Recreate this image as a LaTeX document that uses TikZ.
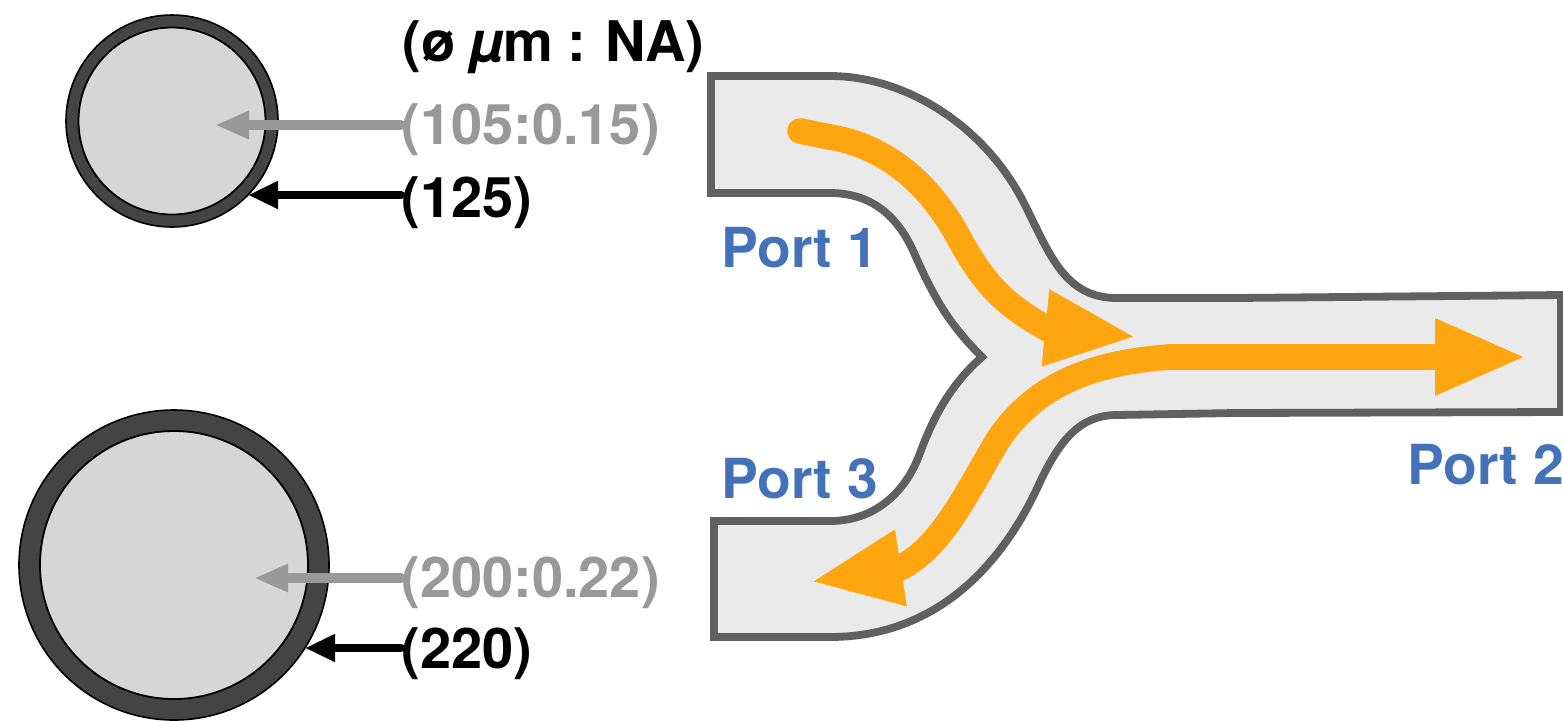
\documentclass[tikz,border=0pt]{standalone}
\usepackage{fontspec}
\setmainfont{TeX Gyre Heros}
\usetikzlibrary{arrows.meta}
\definecolor{flow}{HTML}{FFA50F}
\definecolor{portblue}{HTML}{4472B8}
\definecolor{wall}{HTML}{606060}
\definecolor{guide}{HTML}{EAEAEA}
\definecolor{ring}{HTML}{444444}
\definecolor{core}{HTML}{D6D6D6}
\definecolor{naGray}{HTML}{999999}
\tikzset{
  x=0.5pt,y=-0.5pt,
  fibre/.style={circle,draw=black,line width=0.8pt,fill=ring,inner sep=0pt,minimum size=#1},
  fcore/.style={circle,draw=black,line width=0.9pt,fill=core,inner sep=0pt,minimum size=#1},
  lab/.style={anchor=base west,inner sep=0pt,font=\bfseries\fontsize{28}{30}\selectfont},
  port/.style={lab,text=portblue,font=\bfseries\fontsize{27.6}{30}\selectfont},
  naarrow/.style={draw=naGray,line width=5pt,line cap=round,-{Triangle[length=17pt,width=13pt]}},
  odarrow/.style={draw=black,line width=4.2pt,line cap=round,-{Triangle[length=15pt,width=13pt]}},
  flowarrow/.style={draw=flow,line width=12.8pt,line cap=round,-{Triangle[length=46pt,width=35pt]}},
}
\begin{document}
\begin{tikzpicture}
\path[use as bounding box,fill=white] (0,0) rectangle (1563,720);
% fibres
\node[fibre=106pt] (f1) at (172,121) {};
\node[fcore=93.5pt] (c1) at (172,121) {};
\node[fibre=155pt] (f2) at (174,565) {};
\node[fcore=134pt] (c2) at (174,565) {};
% labels
\node[lab] (head) at (402,61) {\spaceskip=7pt (ø {\itshape µ}m : NA)};
\node[lab,text=naGray] (na1) at (401,144) {(105:0.15)};
\node[lab] (od1) at (401,217) {(125)};
\node[lab,text=naGray] (na2) at (401,597) {(200:0.22)};
\node[lab] (od2) at (401,668) {(220)};
% label arrows
\coordinate (t1) at (215,125);
\coordinate (t2) at (248,195);
\coordinate (t3) at (254,578);
\coordinate (t4) at (305,648);
\coordinate (s1) at (na1.west |- t1);
\coordinate (s2) at (od1.west |- t2);
\coordinate (s3) at (na2.west |- t3);
\coordinate (s4) at (od2.west |- t4);
\draw[naarrow] (s1) -- (t1);
\draw[odarrow] (s2) -- (t2);
\draw[naarrow] (s3) -- (t3);
\draw[odarrow] (s4) -- (t4);
% splitter
\draw[draw=wall,fill=guide,line width=3.9pt,line join=miter]
  (711,76) -- (830,76)
  .. controls (905,76) and (985,125) .. (1025,205)
  .. controls (1050,255) and (1065,298) .. (1117,298)
  -- (1235,298) -- (1561,295) -- (1561,412) -- (1235,413) -- (1117,415)
  .. controls (1080,415) and (1060,440) .. (1040,482)
  .. controls (1005,560) and (940,637) .. (830,637)
  -- (714,637) -- (714,521) -- (830,521)
  .. controls (875,521) and (906,492) .. (920,453)
  .. controls (933,418) and (950,385) .. (982,357)
  .. controls (950,325) and (935,300) .. (915,255)
  .. controls (900,220) and (875,193) .. (830,193)
  -- (711,193) -- cycle;
% ports
\node[port] (p1) at (721,267) {Port 1};
\node[port] (p3) at (721,498) {Port 3};
\node[port] (p2) at (1407,484) {Port 2};
% flows
\coordinate (a1s) at (800,131);
\coordinate (a1t) at (1137,337);
\draw[flowarrow] (a1s) -- (830,137)
  .. controls (885,146) and (930,183) .. (960,240)
  .. controls (985,285) and (1005,305) .. (1046,328) -- (a1t);
\coordinate (a2) at (1170,357);
\coordinate (a2t) at (1527,357);
\draw[flowarrow] (a2) -- (a2t);
\coordinate (a3t) at (810,582);
\draw[flowarrow] (a2)
  .. controls (1100,362) and (1040,380) .. (1000,437)
  .. controls (970,485) and (945,545) .. (900,568) -- (a3t);
\end{tikzpicture}
\end{document}
